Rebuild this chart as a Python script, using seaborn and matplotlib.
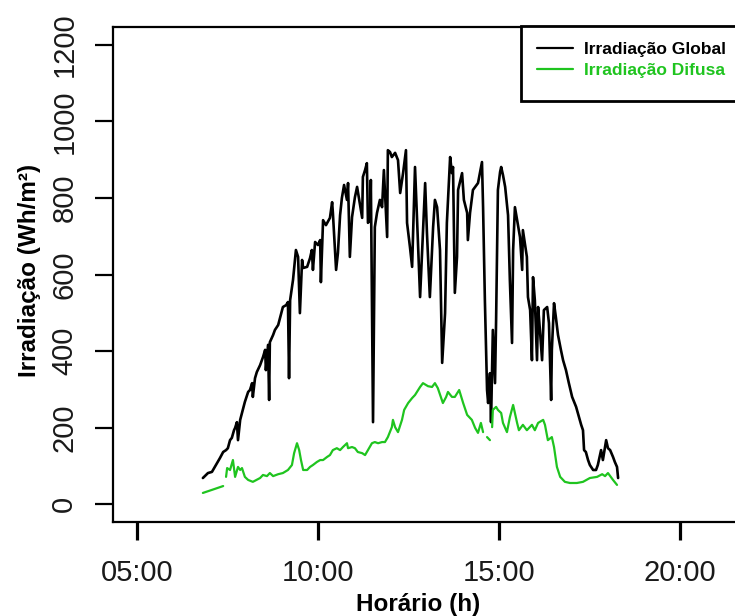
import numpy as np
import pandas as pd
import matplotlib
matplotlib.use("Agg")
import matplotlib.pyplot as plt
from matplotlib.lines import Line2D
from matplotlib.patches import Rectangle
import seaborn as sns

# Global irradiance: time of day (decimal hours) and value (Wh/m²)
global_hours = [
    6.82, 6.96, 7.07, 7.15, 7.29, 7.38, 7.46, 7.51, 7.57, 7.62, 7.68, 7.71, 7.76, 7.79,
    7.85, 7.90, 7.98, 8.07, 8.12, 8.18, 8.20, 8.26, 8.31, 8.40, 8.48, 8.54, 8.56, 8.62,
    8.65, 8.67, 8.76, 8.81, 8.90, 8.95, 9.03, 9.12, 9.17, 9.20, 9.23, 9.31, 9.39, 9.45,
    9.50, 9.56, 9.59, 9.70, 9.78, 9.83, 9.86, 9.92, 10.00, 10.06, 10.08, 10.14, 10.22,
    10.33, 10.39, 10.41, 10.50, 10.55, 10.61, 10.66, 10.72, 10.80, 10.83, 10.88, 10.94,
    11.02, 11.08, 11.16, 11.22, 11.24, 11.30, 11.35, 11.38, 11.44, 11.46, 11.52, 11.57,
    11.63, 11.71, 11.77, 11.82, 11.91, 11.93, 11.99, 12.04, 12.13, 12.21, 12.27, 12.35,
    12.43, 12.46, 12.54, 12.60, 12.68, 12.73, 12.82, 12.90, 12.96, 13.01, 13.09, 13.18,
    13.23, 13.29, 13.37, 13.43, 13.51, 13.56, 13.65, 13.70, 13.73, 13.78, 13.84, 13.87,
    13.98, 14.03, 14.12, 14.14, 14.20, 14.28, 14.42, 14.53, 14.56, 14.61, 14.67, 14.70,
    14.75, 14.78, 14.83, 14.89, 14.92, 14.97, 15.03, 15.06, 15.11, 15.17, 15.25, 15.30,
    15.36, 15.39, 15.44, 15.50, 15.58, 15.64, 15.66, 15.72, 15.77, 15.80, 15.86, 15.91,
    15.94, 15.99, 16.05, 16.08, 16.13, 16.19, 16.24, 16.33, 16.38, 16.44, 16.46, 16.52,
    16.57, 16.63, 16.71, 16.77, 16.85, 16.93, 17.02, 17.13, 17.21, 17.27, 17.32, 17.35,
    17.40, 17.46, 17.51, 17.60, 17.68, 17.73, 17.82, 17.87, 17.96, 18.01, 18.07, 18.15,
    18.20, 18.26, 18.29,
]
global_values = [
    68, 81, 84, 97, 120, 136, 141, 146, 167, 173, 193, 199, 214, 167,
    220, 238, 267, 293, 298, 316, 280, 329, 345, 363, 384, 403, 350, 416,
    272, 423, 442, 455, 468, 486, 515, 520, 528, 329, 533, 586, 664, 646,
    499, 638, 617, 620, 643, 664, 612, 685, 677, 690, 580, 742, 729,
    748, 789, 763, 612, 656, 755, 800, 834, 795, 839, 646, 750,
    802, 829, 782, 748, 855, 873, 891, 735, 742, 847, 214, 724,
    761, 795, 776, 873, 698, 925, 920, 907, 918, 899, 813, 865,
    925, 735, 672, 620, 881, 761, 541, 708, 839, 708, 541, 724,
    795, 776, 664, 369, 499, 735, 907, 865, 881, 552, 646, 821,
    865, 795, 761, 690, 761, 821, 839, 894, 776, 533, 298, 264,
    342, 214, 455, 316, 481, 821, 868, 881, 860, 829, 755, 586,
    421, 664, 776, 743, 698, 612, 716, 677, 646, 541, 507, 376,
    593, 533, 376, 515, 455, 376, 507, 515, 473, 272, 403, 525,
    489, 442, 403, 376, 350, 316, 280, 254, 227, 207, 193, 141,
    136, 115, 102, 89, 89, 102, 141, 115, 167, 146, 141, 123,
    110, 97, 68,
]

# Diffuse irradiance: time of day (decimal hours) and value (Wh/m²)
diffuse_hours = [
    6.82, 7.07, 7.38,
    7.46, 7.49, 7.57, 7.65, 7.71, 7.79, 7.85, 7.90, 7.98, 8.07, 8.20, 8.40, 8.48, 8.59,
    8.67, 8.76, 8.90, 9.03, 9.17, 9.28, 9.34, 9.42, 9.48, 9.53, 9.59, 9.70, 9.78, 9.86,
    9.97, 10.06, 10.14, 10.25, 10.33, 10.41, 10.52, 10.61, 10.69, 10.80, 10.83, 10.94,
    11.02, 11.10, 11.22, 11.30, 11.38, 11.49, 11.57, 11.66, 11.77, 11.85, 11.93, 12.04,
    12.07, 12.13, 12.21, 12.32, 12.38, 12.49, 12.60, 12.68, 12.82, 12.90, 13.04, 13.15,
    13.23, 13.31, 13.45, 13.54, 13.59, 13.70, 13.78, 13.90, 14.01, 14.12, 14.25, 14.34,
    14.42, 14.50, 14.56,
    14.67, 14.75,
    14.81, 14.83, 14.92, 14.97, 15.06, 15.11, 15.22, 15.30, 15.39, 15.50, 15.55, 15.66,
    15.77, 15.91, 15.99, 16.08, 16.22, 16.27, 16.35, 16.46, 16.52, 16.60, 16.69, 16.82,
    16.96, 17.15, 17.32, 17.51, 17.71, 17.85, 17.93, 18.01, 18.15, 18.26,
]
diffuse_values = [
    29, 37, 47,
    71, 94, 89, 115, 71, 97, 89, 94, 71, 63, 58, 68, 76, 73,
    81, 73, 78, 81, 89, 102, 133, 159, 141, 115, 89, 89, 97, 102,
    110, 115, 115, 123, 128, 141, 146, 141, 149, 159, 146, 149,
    146, 136, 133, 128, 141, 159, 162, 159, 162, 162, 175, 201,
    220, 201, 188, 220, 246, 264, 277, 285, 306, 316, 308, 306,
    316, 303, 264, 280, 293, 280, 280, 298, 264, 233, 220, 199,
    186, 212, 188,
    175, 167,
    201, 246, 254, 246, 238, 212, 188, 227, 259, 212, 193, 207,
    193, 207, 193, 212, 220, 207, 167, 175, 149, 97, 71, 58,
    55, 55, 58, 68, 71, 78, 73, 81, 63, 50,
]
# Missing records in the diffuse sensor split the series at these times
diffuse_gaps = [7.42, 14.62, 14.78]

series_labels = ["Irradiação Global", "Irradiação Difusa"]
hour_ticks = [5, 10, 15, 20]
hour_tick_labels = ["05:00", "10:00", "15:00", "20:00"]
irr_ticks = [0, 200, 400, 600, 800, 1000, 1200]

global_df = pd.DataFrame({"hora": global_hours, "irr": global_values})
diffuse_df = pd.DataFrame({"hora": diffuse_hours, "irr": diffuse_values})
diffuse_df["trecho"] = np.searchsorted(diffuse_gaps, diffuse_df["hora"])

sns.set_style("ticks")
plt.rcParams["font.family"] = ["Liberation Sans", "DejaVu Sans"]

BLACK = "#000000"
GREEN = "#1FC41F"

fig = plt.figure(figsize=(7.35, 6.16), dpi=100)
W, H = 735, 616
left_px, right_px, top_px, bottom_px = 113, 760, 26.6, 522.4
ax = fig.add_axes([left_px / W, 1 - bottom_px / H,
                   (right_px - left_px) / W, (bottom_px - top_px) / H])

sns.lineplot(data=global_df, x="hora", y="irr", ax=ax, color=BLACK,
             linewidth=1.9, estimator=None, sort=False)
sns.lineplot(data=diffuse_df, x="hora", y="irr", units="trecho", ax=ax,
             color=GREEN, linewidth=1.6, estimator=None, sort=False)

# 36.2 px per hour, 05:00 at x = 137 px
px_per_hour = 36.2
x_left = 5 - (137 - left_px) / px_per_hour
ax.set_xlim(x_left, x_left + (right_px - left_px) / px_per_hour)
ax.set_ylim(-48, 1248)

ax.set_xticks(hour_ticks)
ax.set_xticklabels(hour_tick_labels)
ax.set_yticks(irr_ticks)
ax.set_yticklabels([str(v) for v in irr_ticks], rotation=90, va="center")

for s in ax.spines.values():
    s.set_linewidth(1.6)
    s.set_color(BLACK)
ax.tick_params(axis="both", length=13, color=BLACK,
               labelsize=21, labelcolor="#1a1a1a")
ax.tick_params(axis="x", pad=13, width=2.3)
ax.tick_params(axis="y", pad=12, width=1.6)

ax.set_xlabel("Horário (h)", fontsize=17.5, fontweight="bold", color=BLACK)
ax.set_ylabel("Irradiação (Wh/m²)", fontsize=17.5, fontweight="bold", color=BLACK)
ax.xaxis.set_label_coords((418 - left_px) / (right_px - left_px),
                          -(604 - bottom_px) / (bottom_px - top_px), transform=ax.transAxes)
ax.xaxis.label.set_va("center")
ax.yaxis.set_label_coords(-(113 - 30) / (right_px - left_px), 0.508)
ax.yaxis.label.set_va("center")

# legend box: top edge on the plot frame, right side running off the figure
box = Rectangle((521 / W, 1 - 101 / H), 300 / W, 75 / H, transform=fig.transFigure,
                facecolor="white", edgecolor=BLACK, linewidth=2.0, zorder=5)
ax.add_patch(box)
box.set_clip_on(False)

handles = [Line2D([], [], color=BLACK, linewidth=1.6),
           Line2D([], [], color=GREEN, linewidth=1.6)]
leg = ax.legend(handles, series_labels, loc="upper left",
                bbox_to_anchor=((521 - left_px) / (right_px - left_px), 1.0),
                borderaxespad=0, frameon=False,
                prop={"size": 12.5, "weight": "bold"},
                handlelength=2.1, handletextpad=0.6, labelspacing=0.3,
                borderpad=0.9)
leg.set_zorder(6)
for txt, col in zip(leg.get_texts(), [BLACK, GREEN]):
    txt.set_color(col)

fig.savefig("out.png", dpi=100)
